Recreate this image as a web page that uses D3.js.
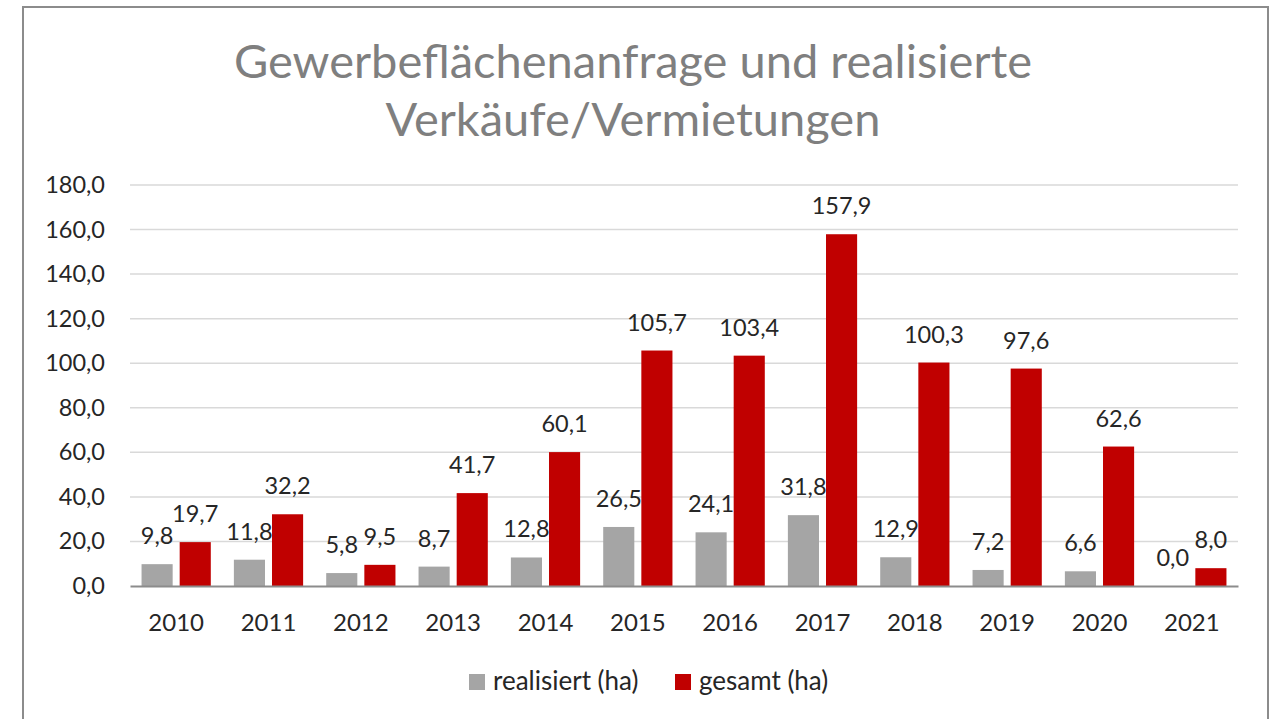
<!DOCTYPE html>
<html>
<head>
<meta charset="utf-8">
<script src="https://cdn.jsdelivr.net/npm/d3@7"></script>
<style>
  body { margin: 0; background: #fff; }
  text { font-family: Lato, "Open Sans", sans-serif; }
</style>
</head>
<body>
<div id="chart"></div>
<script>
// data
var years = ["2010", "2011", "2012", "2013", "2014", "2015", "2016", "2017", "2018", "2019", "2020", "2021"];
var realisiert = [9.8, 11.8, 5.8, 8.7, 12.8, 26.5, 24.1, 31.8, 12.9, 7.2, 6.6, 0.0];
var gesamt = [19.7, 32.2, 9.5, 41.7, 60.1, 105.7, 103.4, 157.9, 100.3, 97.6, 62.6, 8.0];
var seriesNames = ["realisiert (ha)", "gesamt (ha)"];
var yTicks = [0, 20, 40, 60, 80, 100, 120, 140, 160, 180];

var W = 1274, H = 719;
var plot = { left: 130, right: 1238, top: 185, bottom: 586 };
var colors = ["#a5a5a5", "#c00000"];
var fmt = function (v) { return d3.format(".1f")(v).replace(".", ","); };

var svg = d3.select("#chart").append("svg")
    .attr("width", W)
    .attr("height", H);

// outer frame of the chart
svg.append("rect")
    .attr("x", 23).attr("y", 7)
    .attr("width", 1245).attr("height", 730)
    .attr("fill", "#fff")
    .attr("stroke", "#8c8c8c")
    .attr("stroke-width", 2);

// title
var title = svg.append("text")
    .attr("text-anchor", "middle")
    .attr("fill", "#7f7f7f")
    .style("font-size", "47px");
title.append("tspan").attr("x", 633).attr("y", 78).text("Gewerbeflächenanfrage und realisierte");
title.append("tspan").attr("x", 633).attr("y", 136).text("Verkäufe/Vermietungen");

var x = d3.scaleBand()
    .domain(years)
    .range([plot.left, plot.right])
    .paddingInner(0.25)
    .paddingOuter(0.125);

var xs = d3.scaleBand()
    .domain([0, 1])
    .range([0, x.bandwidth()])
    .paddingInner(0.184);

var y = d3.scaleLinear()
    .domain([0, 180])
    .range([plot.bottom, plot.top]);

// gridlines
svg.append("g")
    .selectAll("line")
    .data(yTicks.filter(function (d) { return d > 0; }))
    .enter().append("line")
    .attr("x1", plot.left).attr("x2", plot.right)
    .attr("y1", function (d) { return y(d); })
    .attr("y2", function (d) { return y(d); })
    .attr("stroke", "#d9d9d9")
    .attr("stroke-width", 1.5);

// y axis labels
var yAxis = svg.append("g")
    .attr("transform", "translate(" + plot.left + ",0)")
    .call(d3.axisLeft(y).tickValues(yTicks).tickFormat(fmt).tickSize(0).tickPadding(25));
yAxis.select(".domain").remove();
yAxis.selectAll("text")
    .attr("fill", "#262626")
    .style("font-size", "23.5px")
    .style("font-family", "Lato, sans-serif");

// bars
var rows = years.map(function (yr, i) { return { year: yr, vals: [realisiert[i], gesamt[i]] }; });

var groups = svg.append("g")
    .selectAll("g")
    .data(rows)
    .enter().append("g")
    .attr("transform", function (d) { return "translate(" + x(d.year) + ",0)"; });

groups.selectAll("rect")
    .data(function (d) { return d.vals; })
    .enter().append("rect")
    .attr("x", function (d, i) { return xs(i); })
    .attr("width", xs.bandwidth())
    .attr("y", function (d) { return y(d); })
    .attr("height", function (d) { return y(0) - y(d); })
    .attr("fill", function (d, i) { return colors[i]; });

groups.selectAll("text")
    .data(function (d) { return d.vals; })
    .enter().append("text")
    .attr("x", function (d, i) { return xs(i) + xs.bandwidth() / 2; })
    .attr("y", function (d) { return y(d) - 20; })
    .attr("text-anchor", "middle")
    .attr("fill", "#262626")
    .style("font-size", "23.5px")
    .text(fmt);

// x axis
var xAxis = svg.append("g")
    .attr("transform", "translate(0," + plot.bottom + ")")
    .call(d3.axisBottom(x).tickSize(0).tickPadding(28));
xAxis.select(".domain")
    .attr("stroke", "#8c8c8c")
    .attr("stroke-width", 2);
xAxis.selectAll("text")
    .attr("fill", "#262626")
    .style("font-size", "24px")
    .style("font-family", "Lato, sans-serif");

// legend
var legendX = [469, 675];
var legend = svg.append("g")
    .selectAll("g")
    .data(seriesNames)
    .enter().append("g")
    .attr("transform", function (d, i) { return "translate(" + legendX[i] + ",674)"; });
legend.append("rect")
    .attr("width", 16).attr("height", 16)
    .attr("fill", function (d, i) { return colors[i]; });
legend.append("text")
    .attr("x", 24).attr("y", 16)
    .attr("fill", "#262626")
    .style("font-size", "26px")
    .text(function (d) { return d; });
</script>
</body>
</html>
